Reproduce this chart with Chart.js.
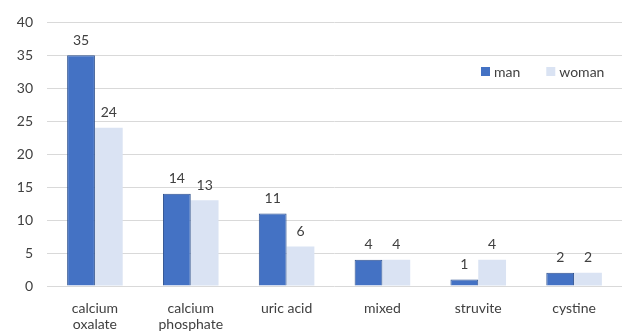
<!DOCTYPE html>
<html>
<head>
<meta charset="utf-8">
<script src="https://cdn.jsdelivr.net/npm/chart.js@4.4.1/dist/chart.umd.min.js"></script>
<style>
  html, body { margin: 0; padding: 0; background: #fff; }
  #wrap { width: 622px; height: 333px; }
</style>
</head>
<body>
<div id="wrap"><canvas id="myChart"></canvas></div>
<script>
const categories = [["calcium", "oxalate"], ["calcium", "phosphate"], "uric acid", "mixed", "struvite", "cystine"];
const manValues = [35, 14, 11, 4, 1, 2];
const womanValues = [24, 13, 6, 4, 4, 2];
const yTicks = [0, 5, 10, 15, 20, 25, 30, 35, 40];

const FONT = "Lato, 'Open Sans', sans-serif";
const TEXT_COLOR = "#404040";

// labels above each bar
const barLabels = {
    id: "barLabels",
    afterDatasetsDraw(chart) {
        const c = chart.ctx;
        c.save();
        c.font = "14px " + FONT;
        c.fillStyle = TEXT_COLOR;
        c.textAlign = "center";
        c.textBaseline = "bottom";
        chart.data.datasets.forEach((ds, i) => {
            chart.getDatasetMeta(i).data.forEach((bar, j) => {
                c.fillText(ds.data[j], bar.x, bar.y - 8);
            });
        });
        c.restore();
    }
};

// legend sits inside the plot, top right
const innerLegend = {
    id: "innerLegend",
    afterDraw(chart) {
        const c = chart.ctx;
        c.save();
        c.font = "14px " + FONT;
        c.textBaseline = "middle";
        c.textAlign = "left";
        let x = 481;
        const y = 72;
        chart.data.datasets.forEach(ds => {
            c.fillStyle = ds.backgroundColor;
            c.fillRect(x, y - 5, 9, 9);
            c.fillStyle = TEXT_COLOR;
            c.fillText(ds.label, x + 13, y);
            x += 13 + c.measureText(ds.label).width + 26;
        });
        c.restore();
    }
};

new Chart(document.getElementById("myChart"), {
    type: "bar",
    data: {
        labels: categories,
        datasets: [{
            label: "man",
            data: manValues,
            backgroundColor: "#4472C4",
            borderColor: "#2F528F",
            borderWidth: 1,
            categoryPercentage: 0.58,
            barPercentage: 1
        }, {
            label: "woman",
            data: womanValues,
            backgroundColor: "#DAE3F3",
            borderWidth: 0,
            categoryPercentage: 0.58,
            barPercentage: 1
        }]
    },
    options: {
        responsive: true,
        maintainAspectRatio: false,
        animation: false,
        layout: { padding: { top: 21, right: 0, left: 0, bottom: 0 } },
        plugins: {
            legend: { display: false },
            tooltip: { enabled: false }
        },
        scales: {
            x: {
                grid: { display: false },
                border: { display: false },
                ticks: {
                    color: TEXT_COLOR,
                    font: { family: FONT, size: 14, lineHeight: 1.15 },
                    padding: 6,
                    maxRotation: 0,
                    autoSkip: false
                },
                afterFit(scale) { scale.height = 47; }
            },
            y: {
                min: 0,
                max: 40,
                afterBuildTicks(scale) { scale.ticks = yTicks.map(v => ({ value: v })); },
                grid: { color: "#D9D9D9", lineWidth: 1, drawTicks: false },
                border: { display: false },
                ticks: {
                    color: TEXT_COLOR,
                    font: { family: FONT, size: 14 },
                    padding: 14
                },
                afterFit(scale) { scale.width = 47; }
            }
        }
    },
    plugins: [barLabels, innerLegend]
});
</script>
</body>
</html>
